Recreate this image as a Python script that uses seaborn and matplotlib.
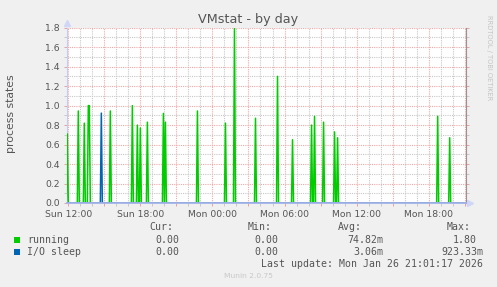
import numpy as np
import pandas as pd
import matplotlib
matplotlib.use("Agg")
import matplotlib.pyplot as plt
import matplotlib.dates as mdates
import matplotlib.ticker as mticker
from matplotlib.patches import Rectangle
import seaborn as sns

# ---------------- data ----------------
sample_start = "2026-01-25 11:50"
sample_end = "2026-01-26 21:00"
view_start = "2026-01-25 11:51"
view_end = "2026-01-26 21:04"

running_times = [
    "2026-01-25 11:55", "2026-01-25 12:50", "2026-01-25 13:20", "2026-01-25 13:40",
    "2026-01-25 13:45", "2026-01-25 15:30", "2026-01-25 17:20", "2026-01-25 17:45",
    "2026-01-25 18:00", "2026-01-25 18:35", "2026-01-25 19:55", "2026-01-25 20:05",
    "2026-01-25 22:45", "2026-01-26 01:05", "2026-01-26 01:50", "2026-01-26 03:35",
    "2026-01-26 05:25", "2026-01-26 06:40", "2026-01-26 08:15", "2026-01-26 08:30",
    "2026-01-26 09:15", "2026-01-26 10:10", "2026-01-26 10:25", "2026-01-26 18:45",
    "2026-01-26 19:45",
]
running_values = [
    0.71, 0.945, 0.82, 1.00,
    1.00, 0.945, 1.00, 0.80,
    0.77, 0.83, 0.92, 0.83,
    0.945, 0.82, 1.80, 0.87,
    1.30, 0.65, 0.80, 0.89,
    0.83, 0.73, 0.67, 0.89,
    0.67,
]
io_times = ["2026-01-25 14:45"]
io_values = [0.923]

series_names = ["running", "I/O sleep"]
series_colors = ["#00cc00", "#0066b3"]
legend_cur = ["0.00", "0.00"]
legend_min = ["0.00", "0.00"]
legend_avg = ["74.82m", "3.06m"]
legend_max = ["1.80", "923.33m"]

title = "VMstat - by day"
y_label = "process states"
last_update = "Last update: Mon Jan 26 21:01:17 2026"
footer = "Munin 2.0.75"
side_text = "RRDTOOL / TOBI OETIKER"

# ---------------- build frame ----------------
times = pd.date_range(sample_start, sample_end, freq="5min")
df = pd.DataFrame({"time": times, "running": 0.0, "I/O sleep": 0.0}).set_index("time")
df.loc[pd.to_datetime(running_times), "running"] = running_values
df.loc[pd.to_datetime(io_times), "I/O sleep"] = io_values
long = df.reset_index().melt(id_vars="time", var_name="series", value_name="value")

# ---------------- figure ----------------
W, H = 497, 287
fig = plt.figure(figsize=(W / 100, H / 100), dpi=100, facecolor="#f0f0f0")

def fx(x):
    return x / W

def fy(y):
    return 1 - y / H

L, R, T, B = 66.5, 465.5, 27.7, 203.0
ax = fig.add_axes([fx(L), fy(B), (R - L) / W, (B - T) / H])
ax.set_facecolor("white")

sns.lineplot(data=long, x="time", y="value", hue="series", hue_order=series_names,
             palette=dict(zip(series_names, series_colors)), legend=False,
             linewidth=1.1, ax=ax, zorder=5)

ax.set_xlim(pd.Timestamp(view_start), pd.Timestamp(view_end))
ax.set_ylim(0, 1.8)
ax.set_xlabel("")
ax.set_ylabel("")

# grids
ax.xaxis.set_major_locator(mdates.HourLocator(byhour=range(0, 24, 3)))
ax.xaxis.set_minor_locator(mdates.HourLocator())
def xfmt(v, pos):
    d = mdates.num2date(v)
    return d.strftime("%a %H:%M") if d.hour % 6 == 0 else ""
ax.xaxis.set_major_formatter(mticker.FuncFormatter(xfmt))
ax.yaxis.set_major_locator(mticker.MultipleLocator(0.2))
ax.yaxis.set_minor_locator(mticker.MultipleLocator(0.1))
ax.yaxis.set_major_formatter(mticker.FormatStrFormatter("%.1f"))

ax.set_axisbelow(True)
dot = (0, (1, 1))
ax.grid(which="major", color="#f0a8a8", linestyle=dot, linewidth=0.8)
ax.grid(which="minor", color="#c8c8c8", linestyle=dot, linewidth=0.8)

ax.tick_params(which="both", length=2, width=0.7, labelsize=6.7, labelcolor="#555555",
               pad=3, left=True, right=True, bottom=True)
ax.tick_params(which="major", color="#e8a0a0")
ax.tick_params(which="minor", color="#c8c8c8")
for lab in ax.get_xticklabels() + ax.get_yticklabels():
    lab.set_fontfamily("DejaVu Sans")

ax.spines["top"].set_visible(False)
ax.spines["left"].set_color("#c4ccf4")
ax.spines["bottom"].set_color("#a4b2ea")
ax.spines["right"].set_color("#a09090")
ax.spines["left"].set_linewidth(0.8)
ax.spines["right"].set_linewidth(0.8)
ax.spines["bottom"].set_linewidth(1.3)
ax.spines["left"].set_zorder(4)
ax.spines["right"].set_zorder(4)
ax.spines["bottom"].set_zorder(6)

# arrows
ax.plot([1.012], [0], marker=">", markersize=5, color="#cfd6f8", transform=ax.transAxes, clip_on=False)
ax.plot([0], [1.025], marker="^", markersize=5, color="#cfd6f8", transform=ax.transAxes, clip_on=False)

# texts
fig.text(fx(248), fy(19), title, ha="center", va="center", fontsize=9.2, color="#555555",
         family="DejaVu Sans")
fig.text(fx(11), fy(114), y_label, ha="center", va="center", rotation=90, fontsize=7.8,
         color="#555555", family="DejaVu Sans")
fig.text(fx(489), fy(15), side_text, ha="center", va="top", rotation=270, fontsize=4.8,
         color="#c4c4c4", family="DejaVu Sans")

mono = dict(family="DejaVu Sans Mono", fontsize=7.1, color="#555555", va="center")
fig.text(fx(173), fy(227), "Cur:", ha="right", **mono)
fig.text(fx(272), fy(227), "Min:", ha="right", **mono)
fig.text(fx(362), fy(227), "Avg:", ha="right", **mono)
fig.text(fx(471), fy(227), "Max:", ha="right", **mono)

row_y = [240, 252]
for i, name in enumerate(series_names):
    yy = row_y[i]
    fig.patches.append(Rectangle((fx(14), fy(yy + 3)), 6 / W, 6 / H, transform=fig.transFigure,
                                 facecolor=series_colors[i], edgecolor="none"))
    fig.text(fx(27), fy(yy), name, ha="left", **mono)
    fig.text(fx(179), fy(yy), legend_cur[i], ha="right", **mono)
    fig.text(fx(278), fy(yy), legend_min[i], ha="right", **mono)
    fig.text(fx(383), fy(yy), legend_avg[i], ha="right", **mono)
    mx = legend_max[i]
    fig.text(fx(477 if mx[-1] != "m" else 483), fy(yy), mx, ha="right", **mono)

fig.text(fx(483), fy(264), last_update, ha="right", **mono)
fig.text(fx(248), fy(276), footer, ha="center", va="center", fontsize=5.4, color="#c8c8c8",
         family="DejaVu Sans")

fig.savefig("out.png", dpi=100, facecolor=fig.get_facecolor())
